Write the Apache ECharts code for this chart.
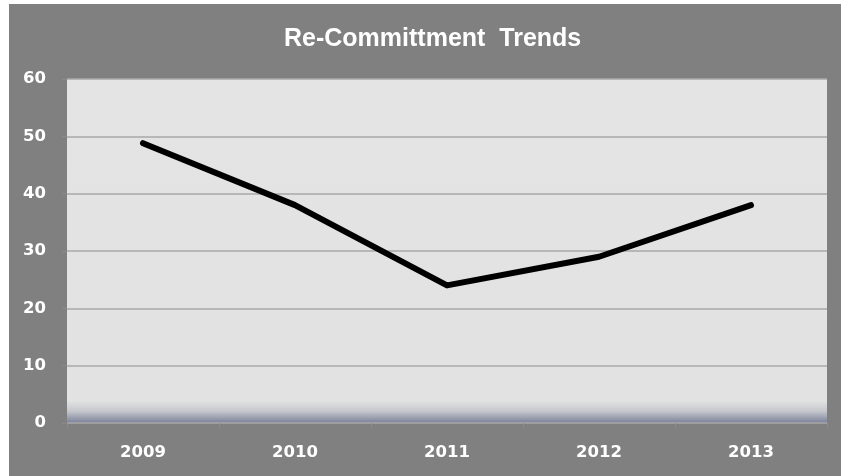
<!DOCTYPE html>
<html>
<head>
<meta charset="utf-8">
<script src="https://cdn.jsdelivr.net/npm/echarts@6/dist/echarts.min.js"></script>
<style>
  html, body { margin: 0; padding: 0; background: #ffffff; }
  #chart { position: absolute; left: 9px; top: 4px; width: 832px; height: 472px; }
</style>
</head>
<body>
<div id="chart"></div>
<script>
// Re-commitment counts per year
const years = ['2009', '2010', '2011', '2012', '2013'];
const recommitments = [48.8, 38, 24, 29, 38];
const yTicks = { min: 0, max: 60, interval: 10 };

const chart = echarts.init(document.getElementById('chart'));

chart.setOption({
  backgroundColor: '#808080',
  animation: false,
  title: {
    text: 'Re-Committment  Trends',
    left: 270,
    top: 18,
    textStyle: {
      color: '#ffffff',
      fontFamily: 'Liberation Sans, Arial, sans-serif',
      fontWeight: 'bold',
      fontSize: 25
    }
  },
  grid: {
    left: 58,
    top: 75,
    width: 760,
    height: 344,
    show: true,
    borderWidth: 0,
    backgroundColor: new echarts.graphic.LinearGradient(0, 0, 0, 1, [
      { offset: 0, color: '#e4e4e4' },
      { offset: 0.935, color: '#e2e2e2' },
      { offset: 0.965, color: '#c6c8ce' },
      { offset: 1, color: '#7a8198' }
    ])
  },
  xAxis: {
    type: 'category',
    data: years,
    boundaryGap: true,
    axisLine: { show: false },
    axisTick: {
      show: true,
      length: 5,
      lineStyle: { color: '#8a8a8a', width: 1 }
    },
    axisLabel: {
      color: '#ffffff',
      fontFamily: 'DejaVu Sans, sans-serif',
      fontWeight: 'bold',
      fontSize: 16.5,
      margin: 21
    }
  },
  yAxis: {
    type: 'value',
    min: yTicks.min,
    max: yTicks.max,
    interval: yTicks.interval,
    axisLine: { show: false },
    axisTick: {
      show: true,
      length: 5,
      lineStyle: { color: '#8a8a8a', width: 1 }
    },
    splitLine: {
      lineStyle: { color: '#a8a8a8', width: 1.5 }
    },
    axisLabel: {
      color: '#ffffff',
      fontFamily: 'DejaVu Sans, sans-serif',
      fontWeight: 'bold',
      fontSize: 16.5,
      margin: 21
    }
  },
  series: [{
    type: 'line',
    data: recommitments,
    symbol: 'none',
    lineStyle: { color: '#000000', width: 6, cap: 'round', join: 'round' },
    z: 5
  }]
});
</script>
</body>
</html>
